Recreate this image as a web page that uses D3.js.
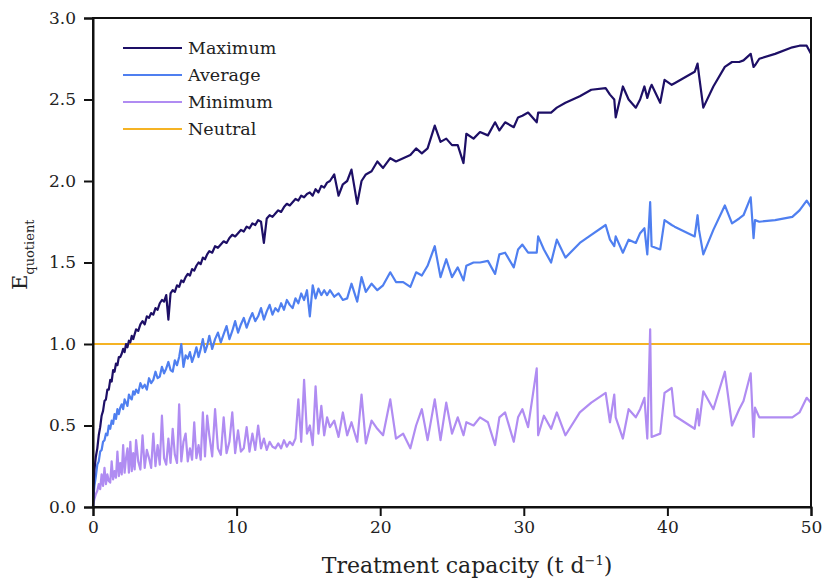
<!DOCTYPE html>
<html>
<head>
<meta charset="utf-8">
<script src="https://cdn.jsdelivr.net/npm/d3@7"></script>
<style>
    body { margin: 0; background: #fff; }
    #chart { width: 824px; height: 578px; }
    text { font-family: "DejaVu Serif", "Liberation Serif", serif; fill: #222; }
</style>
</head>
<body>
<div id="chart"></div>
<script>
// capacity (t/d) shared by the three series
const capacity = [
    0, 0.05, 0.1, 0.2, 0.3, 0.4, 0.5, 0.6, 0.7, 0.8,
    0.9, 1.0, 1.1, 1.2, 1.3, 1.4, 1.5, 1.6, 1.7, 1.8,
    1.9, 2.0, 2.1, 2.2, 2.3, 2.4, 2.5, 2.6, 2.7, 2.8,
    2.9, 3.0, 3.15, 3.3, 3.45, 3.6, 3.75, 3.9, 4.05, 4.2,
    4.35, 4.5, 4.65, 4.8, 4.95, 5.1, 5.25, 5.4, 5.55, 5.7,
    5.85, 6.0, 6.15, 6.3, 6.45, 6.6, 6.75, 6.9, 7.05, 7.2,
    7.35, 7.5, 7.65, 7.8, 7.95, 8.1, 8.3, 8.5, 8.7, 8.9,
    9.1, 9.3, 9.5, 9.7, 9.9, 10.1, 10.3, 10.5, 10.7, 10.9,
    11.1, 11.3, 11.5, 11.7, 11.9, 12.1, 12.3, 12.5, 12.7, 12.9,
    13.1, 13.3, 13.5, 13.7, 13.9, 14.1, 14.3, 14.5, 14.7, 14.9,
    15.1, 15.3, 15.5, 15.7, 15.9, 16.1, 16.3, 16.5, 16.8, 17.1,
    17.4, 17.7, 18.0, 18.4, 18.7, 19.0, 19.4, 19.8, 20.2, 20.7,
    21.1, 21.6, 22.1, 22.5, 22.9, 23.3, 23.8, 24.2, 24.6, 25.0,
    25.4, 25.8, 26.0, 26.5, 26.95, 27.5, 28.0, 28.3, 28.7, 29.3,
    29.6, 29.9, 30.3, 30.9, 31.0, 31.4, 31.9, 32.3, 32.9, 33.9,
    34.7, 35.7, 36.0, 36.3, 36.4, 36.9, 37.3, 37.8, 38.1, 38.4,
    38.6, 38.8, 38.9, 39.5, 39.8, 40.3, 40.5, 41.9, 42.1, 42.2,
    42.5, 43.2, 44.0, 44.5, 45.0, 45.3, 45.8, 46.0, 46.1, 46.4,
    47.5, 48.7, 49.2, 49.7, 50.0
];

const maximum = [
    0, 0.15, 0.23, 0.31, 0.36, 0.44, 0.49, 0.56, 0.59, 0.65,
    0.66, 0.72, 0.72, 0.78, 0.77, 0.84, 0.83, 0.88, 0.87, 0.92,
    0.92, 0.94, 0.97, 0.95, 1.0, 0.98, 1.02, 1.01, 1.05, 1.03,
    1.06, 1.09, 1.08, 1.12, 1.14, 1.12, 1.17, 1.16, 1.19, 1.18,
    1.22, 1.21, 1.25, 1.27, 1.26, 1.3, 1.15, 1.31, 1.33, 1.32,
    1.36, 1.35, 1.39, 1.38, 1.41, 1.43, 1.42, 1.46, 1.45, 1.48,
    1.5, 1.49, 1.53, 1.52, 1.55, 1.57, 1.56, 1.6, 1.59, 1.61,
    1.63, 1.62, 1.65, 1.67, 1.66, 1.68, 1.7, 1.69, 1.72, 1.71,
    1.74, 1.73, 1.76, 1.75, 1.62, 1.77, 1.79, 1.78, 1.8, 1.82,
    1.81, 1.84, 1.86, 1.85, 1.87, 1.89, 1.88, 1.91, 1.9, 1.92,
    1.93, 1.91, 1.95, 1.93, 1.97, 1.96, 1.99, 2.0, 2.04, 1.91,
    1.98, 2.0, 2.07, 1.86, 2.0, 2.04, 2.06, 2.12, 2.08, 2.14,
    2.12, 2.14, 2.16, 2.2, 2.17, 2.2, 2.34, 2.24, 2.26, 2.22,
    2.22, 2.11, 2.29, 2.26, 2.3, 2.28, 2.36, 2.31, 2.36, 2.33,
    2.39, 2.4, 2.42, 2.36, 2.42, 2.42, 2.42, 2.45, 2.48, 2.52,
    2.56, 2.57, 2.53, 2.5, 2.39, 2.58, 2.5, 2.45, 2.5, 2.58,
    2.51, 2.57, 2.59, 2.48, 2.62, 2.59, 2.6, 2.67, 2.72, 2.65,
    2.45, 2.58, 2.7, 2.73, 2.73, 2.74, 2.78, 2.7, 2.71, 2.75,
    2.78, 2.82, 2.83, 2.83, 2.78
];

const average = [
    0, 0.08, 0.13, 0.19, 0.26, 0.28, 0.34, 0.35, 0.4, 0.41,
    0.45, 0.44, 0.5, 0.48, 0.53, 0.51, 0.57, 0.54, 0.6, 0.57,
    0.61, 0.63, 0.6, 0.66, 0.64, 0.62, 0.69, 0.67, 0.66, 0.71,
    0.69, 0.72, 0.7, 0.76, 0.73, 0.75, 0.72, 0.79, 0.76, 0.78,
    0.83, 0.79, 0.8, 0.86, 0.82, 0.85, 0.89, 0.84, 0.83, 0.9,
    0.87, 0.92, 1.0, 0.86, 0.93, 0.91, 0.95, 0.89, 0.93, 0.98,
    0.92, 0.97, 1.03, 0.95, 0.99, 1.05, 0.97, 1.03, 1.07, 1.01,
    1.06, 1.11, 1.03, 1.08, 1.14, 1.07, 1.12, 1.16, 1.1, 1.15,
    1.19, 1.14, 1.17, 1.22, 1.15, 1.2, 1.24, 1.18, 1.22, 1.2,
    1.25, 1.21, 1.27, 1.24, 1.22, 1.28, 1.25, 1.31, 1.27, 1.33,
    1.17, 1.36, 1.28, 1.34, 1.3, 1.33, 1.3, 1.33, 1.29, 1.31,
    1.27, 1.28, 1.37, 1.26, 1.41, 1.32, 1.37, 1.33, 1.36, 1.44,
    1.38, 1.38, 1.35, 1.44, 1.42, 1.48, 1.6, 1.41, 1.52, 1.41,
    1.47, 1.39, 1.48, 1.5, 1.5, 1.51, 1.43, 1.55, 1.56, 1.47,
    1.58, 1.61, 1.56, 1.56, 1.66, 1.58, 1.5, 1.64, 1.53, 1.62,
    1.67, 1.73, 1.64, 1.6, 1.66, 1.56, 1.64, 1.62, 1.68, 1.71,
    1.55, 1.87, 1.6, 1.58, 1.76, 1.73, 1.72, 1.66, 1.79, 1.7,
    1.55, 1.7, 1.85, 1.74, 1.77, 1.79, 1.9, 1.65, 1.76, 1.75,
    1.76, 1.78, 1.82, 1.88, 1.84
];

const minimum = [
    0, 0.03, 0.05, 0.08, 0.1, 0.14, 0.11, 0.2, 0.13, 0.24,
    0.14, 0.2, 0.16, 0.15, 0.28, 0.17, 0.22, 0.18, 0.34, 0.19,
    0.27, 0.2, 0.38, 0.21, 0.3, 0.36, 0.21, 0.4, 0.22, 0.33,
    0.23, 0.41, 0.28, 0.23, 0.44, 0.24, 0.35, 0.3, 0.24, 0.45,
    0.25, 0.38, 0.26, 0.56, 0.3, 0.26, 0.42, 0.27, 0.48, 0.32,
    0.27, 0.63, 0.28, 0.4, 0.45, 0.28, 0.36, 0.29, 0.52, 0.3,
    0.38, 0.29, 0.58, 0.31, 0.56, 0.44, 0.31, 0.6, 0.36, 0.32,
    0.55, 0.33, 0.4, 0.58, 0.33, 0.47, 0.34, 0.36, 0.49, 0.34,
    0.45, 0.35, 0.5, 0.36, 0.42, 0.35, 0.4, 0.37, 0.36, 0.39,
    0.36, 0.41, 0.37, 0.4, 0.38, 0.42, 0.66, 0.4, 0.78, 0.45,
    0.5, 0.38, 0.74, 0.45, 0.62, 0.44, 0.55, 0.49, 0.53, 0.43,
    0.58, 0.44, 0.52, 0.4, 0.69, 0.39, 0.53, 0.48, 0.44, 0.66,
    0.42, 0.45, 0.36, 0.5, 0.6, 0.41, 0.66, 0.41, 0.64, 0.45,
    0.55, 0.44, 0.52, 0.5, 0.55, 0.52, 0.38, 0.55, 0.58, 0.4,
    0.55, 0.6, 0.49, 0.85, 0.44, 0.56, 0.48, 0.58, 0.44, 0.58,
    0.64, 0.7, 0.52, 0.69, 0.55, 0.42, 0.6, 0.55, 0.6, 0.67,
    0.42, 1.09, 0.43, 0.45, 0.7, 0.73, 0.56, 0.48, 0.6, 0.5,
    0.71, 0.6, 0.83, 0.5, 0.6, 0.65, 0.82, 0.43, 0.61, 0.55,
    0.55, 0.55, 0.58, 0.67, 0.64
];

const neutral = 1.0;
const seriesNames = ["Maximum", "Average", "Minimum", "Neutral"];
const seriesColors = ["#1d0f66", "#4f7ff0", "#b08cf2", "#f5b324"];
const xTicks = [0, 10, 20, 30, 40, 50];
const yTicks = [0, 0.5, 1.0, 1.5, 2.0, 2.5, 3.0];

class LineChart {
    constructor(containerId) {
        this.containerId = containerId;
        this.margin = { top: 18, right: 13, bottom: 71, left: 93 };
        this.width = 824 - this.margin.left - this.margin.right;
        this.height = 578 - this.margin.top - this.margin.bottom;
        this.initChart();
    }

    initChart() {
        let viz = this;

        viz.svg = d3.select(`#${viz.containerId}`)
            .append("svg")
            .attr("width", 824)
            .attr("height", 578)
            .append("g")
            .attr("transform", "translate(" + viz.margin.left + "," + viz.margin.top + ")");

        viz.xScale = d3.scaleLinear().domain([0, 50]).range([0, viz.width]);
        viz.yScale = d3.scaleLinear().domain([0, 3]).range([viz.height, 0]);

        // one row per capacity value, three series side by side
        viz.rows = capacity.map((c, i) => ({ x: c, max: maximum[i], avg: average[i], min: minimum[i] }));

        viz.drawChart();
    }

    drawChart() {
        let viz = this;
        const svg = viz.svg;

        // neutral line first, the series go on top of it
        svg.append("line")
            .attr("x1", viz.xScale(0))
            .attr("x2", viz.xScale(50))
            .attr("y1", viz.yScale(neutral))
            .attr("y2", viz.yScale(neutral))
            .attr("stroke", seriesColors[3])
            .attr("stroke-width", 1.8);

        const keys = ["min", "avg", "max"];
        const colorOf = { max: seriesColors[0], avg: seriesColors[1], min: seriesColors[2] };

        keys.forEach(k => {
            const line = d3.line()
                .x(d => viz.xScale(d.x))
                .y(d => viz.yScale(d[k]));
            svg.append("path")
                .datum(viz.rows)
                .attr("fill", "none")
                .attr("stroke", colorOf[k])
                .attr("stroke-width", 2.2)
                .attr("stroke-linejoin", "round")
                .attr("d", line);
        });

        // frame
        svg.append("rect")
            .attr("width", viz.width)
            .attr("height", viz.height)
            .attr("fill", "none")
            .attr("stroke", "#111")
            .attr("stroke-width", 2);

        // axes
        const xAxis = svg.append("g")
            .attr("transform", "translate(0," + viz.height + ")")
            .call(d3.axisBottom(viz.xScale).tickValues(xTicks).tickSize(9).tickPadding(5).tickFormat(d3.format("d")));

        const yAxis = svg.append("g")
            .call(d3.axisLeft(viz.yScale).tickValues(yTicks).tickSize(9).tickPadding(8).tickFormat(d3.format(".1f")));

        [xAxis, yAxis].forEach(a => {
            a.select(".domain").attr("stroke", "#111").attr("stroke-width", 2);
            a.selectAll(".tick line").attr("stroke", "#111").attr("stroke-width", 2);
            a.selectAll(".tick text")
                .style("font-family", "'DejaVu Serif', serif")
                .style("font-size", "17px")
                .attr("fill", "#222");
        });

        // x label
        const xLabel = svg.append("text")
            .attr("x", viz.width / 2 + 15)
            .attr("y", viz.height + 66)
            .attr("text-anchor", "middle")
            .style("font-size", "22px");
        xLabel.append("tspan").text("Treatment capacity (t d");
        xLabel.append("tspan").attr("dy", -8).style("font-size", "13px").text("\u22121");
        xLabel.append("tspan").attr("dy", 8).text(")");

        // y label, E with subscript
        const yLabel = svg.append("text")
            .attr("transform", "translate(" + (27 - viz.margin.left) + "," + (290 - viz.margin.top) + ") rotate(-90)")
            .attr("text-anchor", "start")
            .style("font-size", "21px");
        yLabel.append("tspan").text("E");
        yLabel.append("tspan").attr("dy", 7).style("font-size", "13px").text("quotient");

        // legend
        const legend = svg.append("g")
            .attr("transform", "translate(" + (123 - viz.margin.left) + "," + (48 - viz.margin.top) + ")");
        seriesNames.forEach((name, i) => {
            const g = legend.append("g").attr("transform", "translate(0," + (i * 27) + ")");
            g.append("line")
                .attr("x1", 0).attr("x2", 59)
                .attr("stroke", seriesColors[i])
                .attr("stroke-width", 2);
            g.append("text")
                .attr("x", 65)
                .attr("dy", "0.35em")
                .style("font-size", "17.5px")
                .text(name);
        });
    }
}

new LineChart("chart");
</script>
</body>
</html>
